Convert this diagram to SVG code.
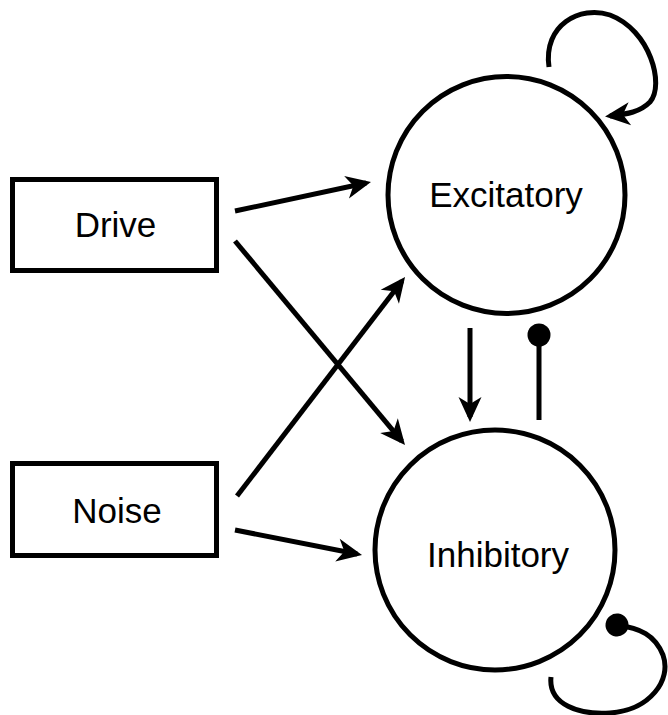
<svg xmlns="http://www.w3.org/2000/svg" width="668" height="715" viewBox="0 0 668 715">
<style>
.box{fill:#fff;stroke:#000;stroke-width:5}
.node{fill:#fff;stroke:#000;stroke-width:5}
.lbl{font-family:"Liberation Sans",Arial,sans-serif;font-size:35px;fill:#000;text-anchor:middle}
.edge{fill:none;stroke:#000;stroke-width:5}
.arrow{marker-end:url(#ah)}
.inhib{marker-end:url(#dot)}
</style>
<defs>
<marker id="ah" markerUnits="userSpaceOnUse" viewBox="-28 -13 30 26" refX="-5" refY="0" markerWidth="30" markerHeight="26" orient="auto">
<path d="M0,0 L-25,-11.5 L-18,0 L-25,11.5 Z" fill="#000"/>
</marker>
<marker id="dot" markerUnits="userSpaceOnUse" viewBox="-13 -13 26 26" refX="0" refY="0" markerWidth="26" markerHeight="26" orient="auto">
<circle cx="0" cy="0" r="11.5" fill="#000"/>
</marker>
</defs>
<g id="drive">
<rect class="box" x="12.5" y="179.5" width="204" height="91"/>
<text class="lbl" x="115.5" y="237">Drive</text>
</g>
<g id="noise">
<rect class="box" x="12.5" y="463.5" width="204" height="92"/>
<text class="lbl" x="117" y="523">Noise</text>
</g>
<g id="excitatory">
<circle class="node" cx="506.5" cy="195" r="118.5"/>
<text class="lbl" x="506" y="207">Excitatory</text>
</g>
<g id="inhibitory">
<circle class="node" cx="495" cy="550" r="120"/>
<text class="lbl" x="498" y="567">Inhibitory</text>
</g>
<g id="connectors">
<line class="edge arrow" x1="235" y1="211" x2="366.1" y2="183.0"/>
<line class="edge arrow" x1="235" y1="241" x2="401.8" y2="441.1"/>
<line class="edge arrow" x1="237" y1="496" x2="402" y2="281"/>
<line class="edge arrow" x1="235" y1="530" x2="357.1" y2="554"/>
<line class="edge arrow" x1="470" y1="328" x2="470" y2="417"/>
<line class="edge inhib" x1="539" y1="420" x2="539" y2="335"/>
<path class="edge arrow" d="M549,67 C543,25 580,5 610,15 C650,30 665,85 650,102 C640,112 628,114 610,116"/>
<path class="edge inhib" d="M551,677 C548,705 580,715 610,713 C650,710 672,680 663,655 C655,635 640,628 617,625"/>
</g>
</svg>
